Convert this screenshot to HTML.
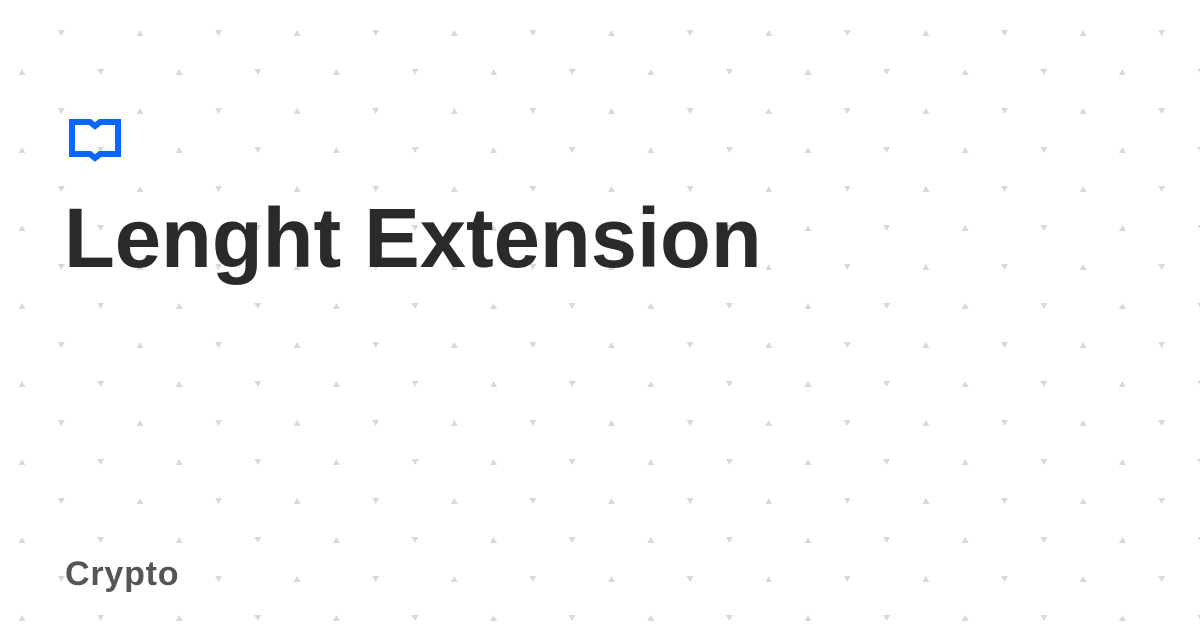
<!DOCTYPE html>
<html><head><meta charset="utf-8"><style>
html,body{margin:0;padding:0;background:#fff;}
body{width:1200px;height:630px;position:relative;overflow:hidden;font-family:"Liberation Sans",sans-serif;}
svg.bg{position:absolute;left:0;top:0;}
.title{position:absolute;left:64px;top:190px;font-size:84px;font-weight:bold;color:#2a2a2a;white-space:nowrap;transform:scaleX(0.99);transform-origin:left top;}
.cat{position:absolute;left:65px;top:555px;font-size:34px;font-weight:bold;color:#555;letter-spacing:0.8px;}
</style></head><body>
<svg class="bg" width="1200" height="630" id="s"></svg>
<script>
var s=document.getElementById('s'),h='';
for(var r=0;r<17;r++){for(var c=0;c<31;c++){
 if((r+c)%2==1)continue;
 var x=22+c*39.3;
 var y=33+(r-1)*39;
 if(y<0||y>630)continue;
 var up=((r+Math.floor(c/2))%2==0);
 if(up)h+='<polygon points="'+(x-3.5)+','+(y+3)+' '+(x+3.5)+','+(y+3)+' '+x+','+(y-3)+'" fill="#d6d9dd"/>';
 else h+='<polygon points="'+(x-3.5)+','+(y-3)+' '+(x+3.5)+','+(y-3)+' '+x+','+(y+3)+'" fill="#d6d9dd"/>';
}}
s.innerHTML=h;
</script>
<svg style="position:absolute;left:68px;top:118px" width="56" height="46">
<path d="M4 4 H22 L27 8 L32 4 H50 V36 H32 L27 40 L22 36 H4 Z" fill="none" stroke="#0a66ff" stroke-width="6" stroke-linejoin="miter"/>
</svg>
<div class="title">Lenght Extension</div>
<div class="cat">Crypto</div>
</body></html>
